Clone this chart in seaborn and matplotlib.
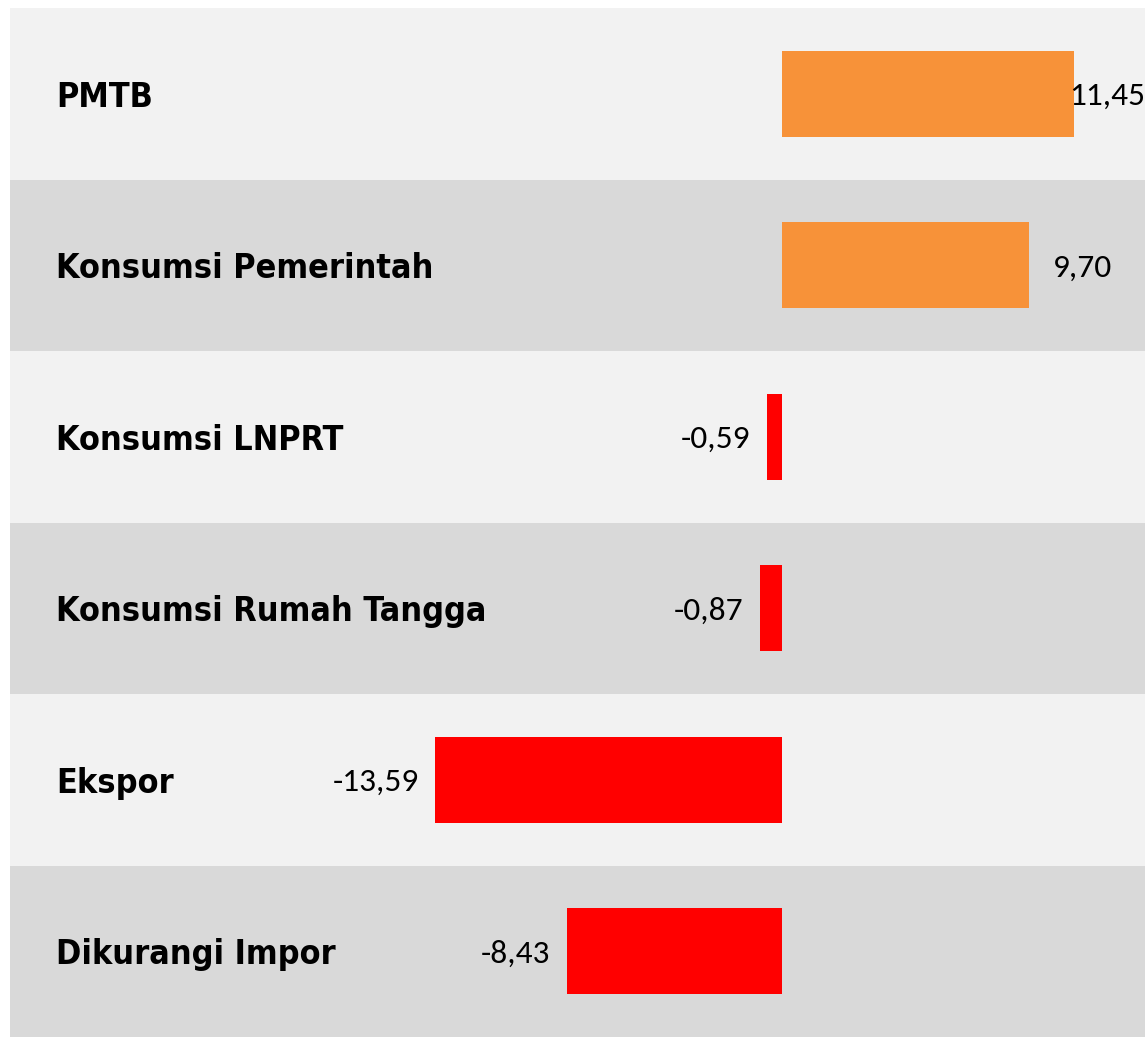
import pandas as pd
import matplotlib
matplotlib.use("Agg")
import matplotlib.pyplot as plt
import seaborn as sns

# data
kategori = ["PMTB", "Konsumsi Pemerintah", "Konsumsi LNPRT",
            "Konsumsi Rumah Tangga", "Ekspor", "Dikurangi Impor"]
nilai = [11.45, 9.70, -0.59, -0.87, -13.59, -8.43]
label_nilai = ["11,45", "9,70", "-0,59", "-0,87", "-13,59", "-8,43"]

dados = pd.DataFrame({"kategori": kategori, "nilai": nilai})
dados["tanda"] = ["pos" if v >= 0 else "neg" for v in nilai]

sns.set_theme(style="white")
plt.rcParams["font.family"] = ["Carlito", "Open Sans", "DejaVu Sans"]

fig = plt.figure(figsize=(11.45, 10.37), dpi=100)
ax = fig.add_axes([10 / 1145, 0, 1135 / 1145, 1029 / 1037])

# row backgrounds
warna_baris = ["#F2F2F2", "#D9D9D9"]
for i in range(len(kategori)):
    ax.axhspan(i - 0.5, i + 0.5, color=warna_baris[i % 2], zorder=0, lw=0)

sns.barplot(data=dados, x="nilai", y="kategori", hue="tanda",
            palette={"pos": "#F79239", "neg": "#FF0000"},
            orient="h", width=0.5, dodge=False, legend=False,
            saturation=1, linewidth=0, ax=ax, zorder=2)

xmin, xmax = -30.27, 14.24
ax.set_xlim(xmin, xmax)
ax.set_ylim(len(kategori) - 0.5, -0.5)

# category labels
trans = ax.get_yaxis_transform()
for i, k in enumerate(kategori):
    ax.text(46 / 1135, i, k, transform=trans, ha="left", va="center_baseline",
            fontsize=24.5, fontweight="bold", fontstretch="condensed",
            color="black", family=["DejaVu Sans"], zorder=3)

# value labels
for i, (v, t) in enumerate(zip(nilai, label_nilai)):
    if v >= 0:
        if v > xmax - 3.5:
            ax.text(1.0, i, t, transform=trans, ha="right", va="center_baseline",
                    fontsize=24, color="black", zorder=3)
        else:
            ax.annotate(t, (v, i), xytext=(17, 0), textcoords="offset points",
                        ha="left", va="center_baseline", fontsize=24, color="black")
    else:
        ax.annotate(t, (v, i), xytext=(-12, 0), textcoords="offset points",
                    ha="right", va="center_baseline", fontsize=24, color="black")

ax.set_xlabel("")
ax.set_ylabel("")
ax.set_xticks([])
ax.set_yticks([])
for s in ax.spines.values():
    s.set_visible(False)

fig.savefig("out.png", dpi=100, facecolor="white")
